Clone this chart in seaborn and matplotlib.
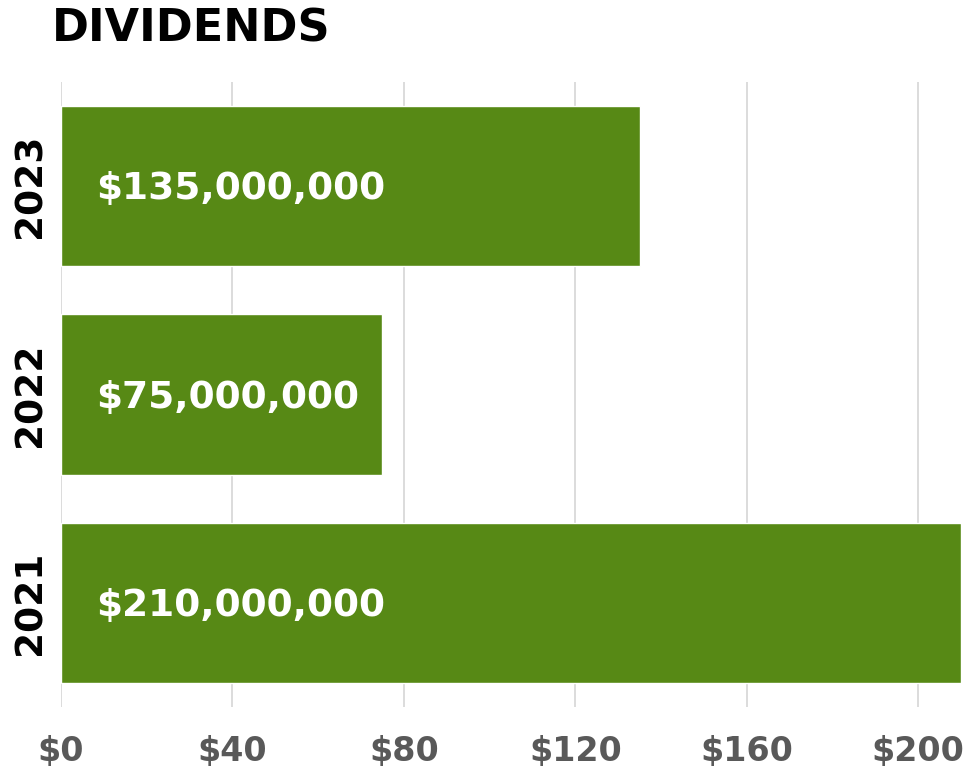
import numpy as np
import pandas as pd
import matplotlib.pyplot as plt
import seaborn as sns

# DATA (values in millions of dollars)
years = ["2023", "2022", "2021"]
dividends = [135, 75, 210]
bar_labels = ["$135,000,000", "$75,000,000", "$210,000,000"]
x_ticks = [0, 40, 80, 120, 160, 200]
x_tick_labels = ["$0", "$40", "$80", "$120", "$160", "$200"]

df = pd.DataFrame({"Year": years, "Dividends": dividends})

sns.set_style("white")
plt.rcParams['font.family'] = ['DejaVu Sans']

fig = plt.figure(figsize=(9.66, 7.66), dpi=100)
ax = fig.add_axes([61 / 966, 59 / 766, 900 / 966, 625 / 766])

sns.barplot(data=df, x="Dividends", y="Year", order=years, orient="h",
            color="#578915", saturation=1, width=0.77, ax=ax, zorder=2)

ax.set_xlim(0, 210)
ax.set_ylim(2.5, -0.5)
ax.set_xticks(x_ticks)
ax.set_xticklabels(x_tick_labels, fontsize=24, fontweight="bold", color="#595959")
ax.set_yticklabels(years, fontsize=27, fontweight="bold", color="black",
                   rotation=90, va="center")
ax.tick_params(axis="x", length=0, pad=20)
ax.tick_params(axis="y", length=0, pad=9)
ax.set_xlabel("")
ax.set_ylabel("")

# vertical gridlines
ax.grid(axis="x", color="#d9d9d9", linewidth=1.3, zorder=0)
ax.set_axisbelow(True)
for spine in ax.spines.values():
    spine.set_visible(False)

# value labels inside bars
for i, lab in enumerate(bar_labels):
    ax.annotate(lab, xy=(0, i), xytext=(35, -3), textcoords="offset pixels",
                ha="left", va="center", color="white", fontsize=27,
                fontweight="bold", zorder=3)

fig.text(52 / 966, 1 - 8 / 766, "DIVIDENDS", fontsize=32, fontweight="bold",
         color="black", ha="left", va="top")

plt.savefig("out.png", dpi=100)
